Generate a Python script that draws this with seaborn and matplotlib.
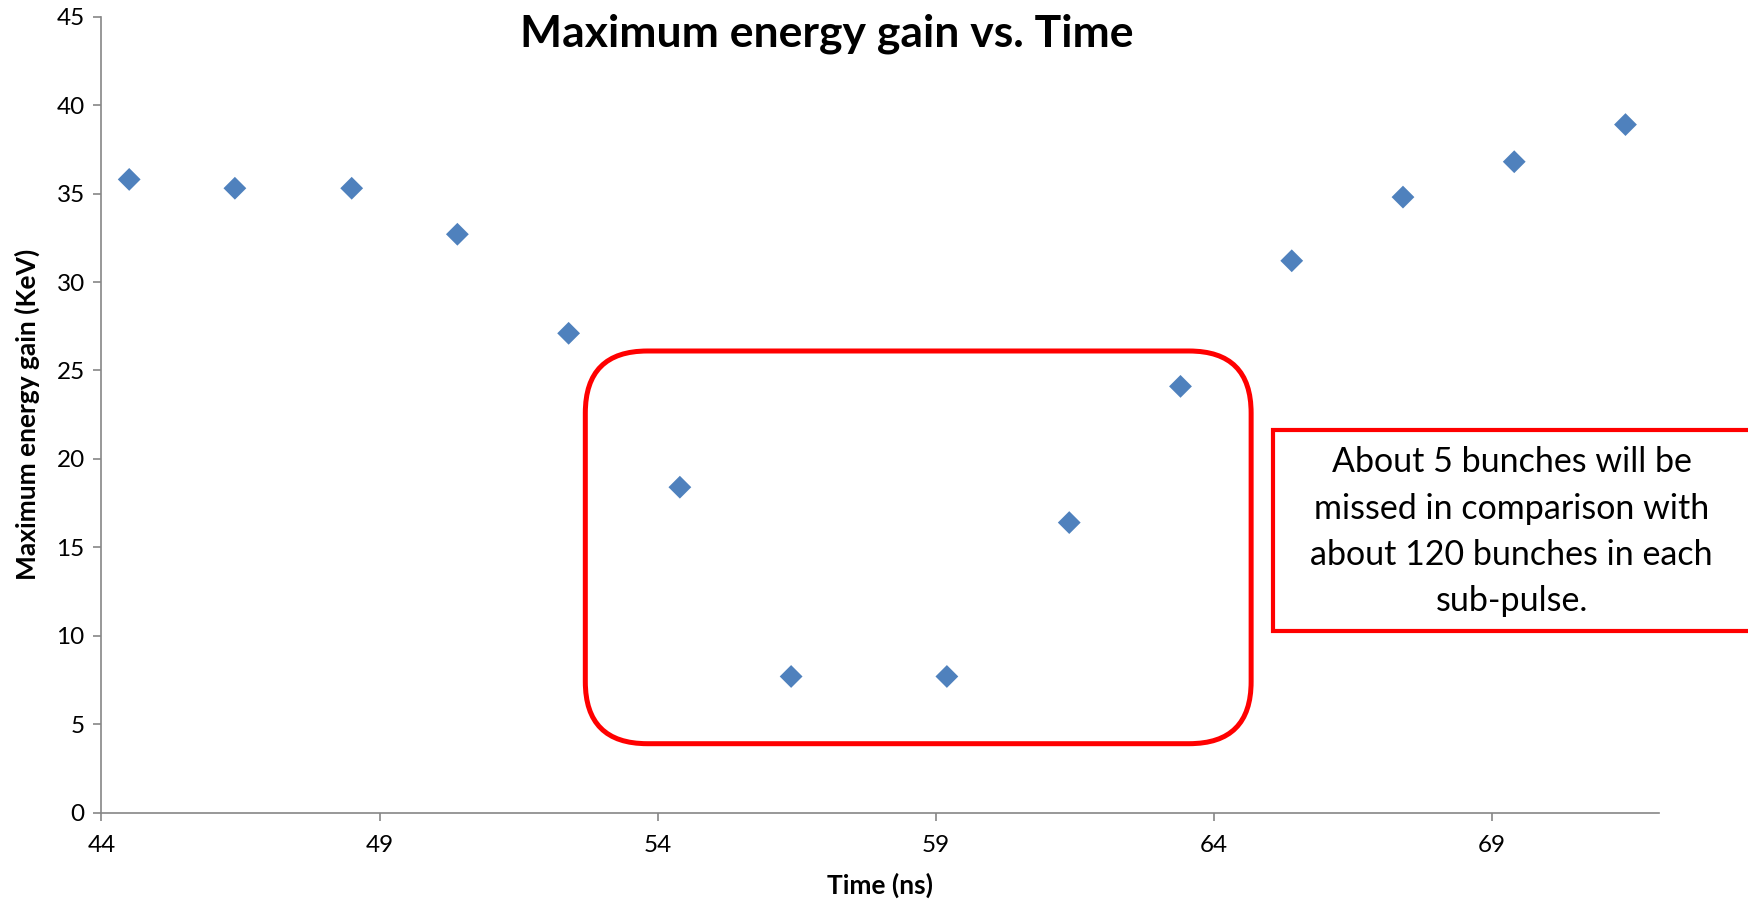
import pandas as pd
import seaborn as sns
import matplotlib.pyplot as plt
from matplotlib.patches import FancyBboxPatch, Rectangle

# values
time_ns = [44.5, 46.4, 48.5, 50.4, 52.4, 54.4, 56.4, 59.2, 61.4, 63.4, 65.4, 67.4, 69.4, 71.4]
energy_kev = [35.8, 35.3, 35.3, 32.7, 27.1, 18.4, 7.7, 7.7, 16.4, 24.1, 31.2, 34.8, 36.8, 38.9]
x_ticks = [44, 49, 54, 59, 64, 69]
y_ticks = [0, 5, 10, 15, 20, 25, 30, 35, 40, 45]
note_text = "About 5 bunches will be\nmissed in comparison with\nabout 120 bunches in each\nsub-pulse."

# highlighted region (data units)
box_x = (52.7, 64.67)
box_y = (3.9, 26.1)

sns.set_style("white")
plt.rcParams['font.family'] = ['Lato', 'DejaVu Sans']
plt.rcParams['text.color'] = 'black'

df = pd.DataFrame({"Time (ns)": time_ns, "Maximum energy gain (KeV)": energy_kev})

fig = plt.figure(figsize=(17.48, 9.06), dpi=100)
ax = fig.add_axes([0.058, 0.103, 0.891, 0.8786])

sns.scatterplot(data=df, x="Time (ns)", y="Maximum energy gain (KeV)", ax=ax,
                marker="D", s=135, color="#4F81BD", edgecolor="none", zorder=3)

ax.set_xlim(44, 72)
ax.set_ylim(0, 45)
ax.set_xticks(x_ticks)
ax.set_yticks(y_ticks)

grey = "#868686"
for side in ["top", "right"]:
    ax.spines[side].set_visible(False)
for side in ["left", "bottom"]:
    ax.spines[side].set_color(grey)
    ax.spines[side].set_linewidth(1.2)
ax.tick_params(axis="both", direction="out", length=6, width=1.2, color=grey,
               labelsize=17.5, labelcolor="black")
ax.tick_params(axis="x", pad=10)
ax.tick_params(axis="y", pad=6)
ax.tick_params(left=True, bottom=True)

ax.set_xlabel("Time (ns)", fontsize=19, fontweight="bold", labelpad=12, color="black")
ax.set_ylabel("Maximum energy gain (KeV)", fontsize=19, fontweight="bold", labelpad=12,
              color="black")

fig.text(0.473, 0.963, "Maximum energy gain vs. Time", fontsize=32, fontweight="bold",
         ha="center", va="center", color="black")

# rounded red box around the dip, corner radius kept circular in pixels
ax_w = ax.get_position().width * fig.get_figwidth() * fig.dpi
ax_h = ax.get_position().height * fig.get_figheight() * fig.dpi
px_x = ax_w / (72 - 44)
px_y = ax_h / 45
radius_px = 62
hl = FancyBboxPatch((box_x[0], box_y[0]), box_x[1] - box_x[0], box_y[1] - box_y[0],
                    boxstyle=f"round,pad=0,rounding_size={radius_px / px_x}",
                    mutation_aspect=px_x / px_y,
                    facecolor="none", edgecolor="#FF0000", linewidth=3.6, zorder=2,
                    clip_on=False)
ax.add_patch(hl)

# note box on the right
fig.patches.append(Rectangle((0.728, 0.3035), 0.28, 0.222, transform=fig.transFigure,
                             facecolor="white", edgecolor="#FF0000", linewidth=3))
fig.text(0.8648, 0.413, note_text, fontsize=24.5, ha="center", va="center",
         linespacing=1.55, color="black")

fig.savefig("out.png", dpi=100)
